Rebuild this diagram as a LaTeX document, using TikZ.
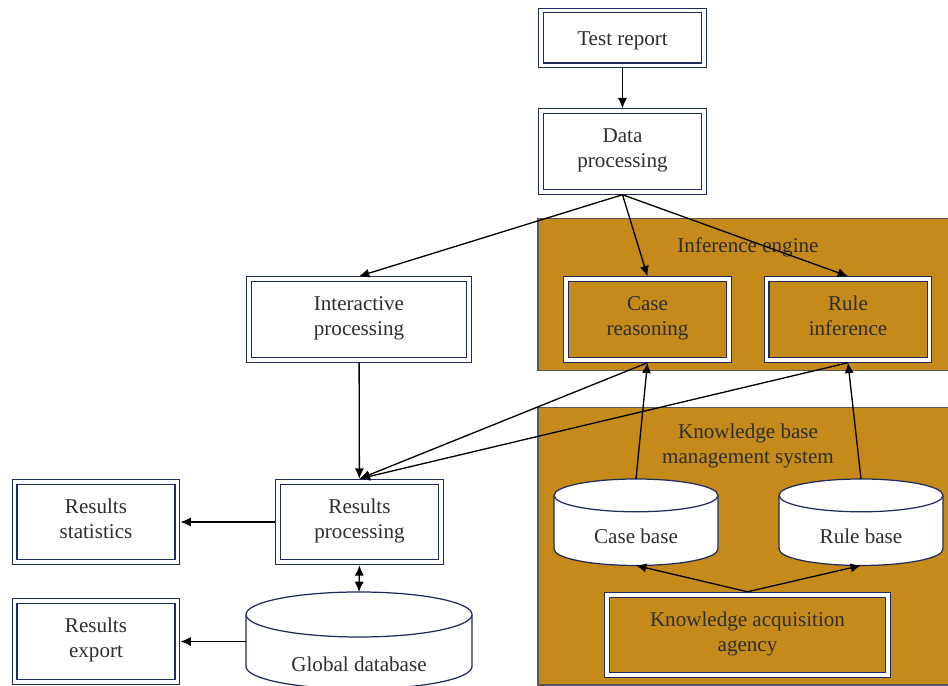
\documentclass[tikz,border=0pt]{standalone}
\usepackage{fontspec}
\setmainfont{Liberation Serif}
\usetikzlibrary{arrows.meta}
\definecolor{panelgold}{HTML}{C58A1A}
\definecolor{boxnavy}{HTML}{1E2B5C}
\definecolor{txtgray}{HTML}{2E2E2E}
% centre x : top y : bottom y : half width : cap half height
\def\dbdrum(#1:#2:#3:#4:#5){\draw[dbline] ({#1-#4},{#2-#5}) -- ({#1-#4},{#3+#5}) arc[start angle=180, end angle=360, x radius=#4, y radius=#5] -- ({#1+#4},{#2-#5}) arc[start angle=0, end angle=180, x radius=#4, y radius=#5] -- cycle;
	\draw[dbline] ({#1-#4},{#2-#5}) arc[start angle=180, end angle=360, x radius=#4, y radius=#5];}

\begin{document}
\begin{tikzpicture}[x=0.02cm, y=0.02cm,
		every node/.style={font=\fontsize{12}{14.2}\selectfont, text=txtgray},
		dblbox/.style={draw=boxnavy, line width=0.6pt, double=white, double distance=2.2pt, fill=white, align=center, outer sep=1.7pt, inner sep=2pt, execute at begin node=\rule{0pt}{12.7pt}, execute at end node=\strut},
		goldbox/.style={dblbox, fill=panelgold},
		panel/.style={fill=panelgold, draw=black!65, line width=0.8pt},
		dbline/.style={draw=boxnavy, line width=0.7pt, fill=white},
		>={Latex[length=5.9pt, width=5.2pt]},
		conn/.style={line width=0.75pt, black}]
	%%%%% START %%%%%
	\useasboundingbox (0, 0) rectangle (948, 686);
	
	% panels
	\draw[panel] (538, 315.5) rectangle (955, 467.5);
	\draw[panel] (538, 1) rectangle (955, 278.5);
	\node (infeng) at (748, 439) {Inference engine};
	\node[align=center] (kbms) at (748, 240.5) {Knowledge base\\management system};
	
	% databases
	\dbdrum(636:207:120.5:82:16.4);
	\dbdrum(861:207:120.5:82:16.4);
	\dbdrum(359:94:-3:113:22.5);
	\node (casebase) at (636, 149.5) {Case base};
	\node (rulebase) at (861, 149.5) {Rule base};
	\node (globaldb) at (359, 22) {Global database};
	\coordinate (cb top) at (636, 207);
	\coordinate (cb bot) at (636, 120.5);
	\coordinate (rb top) at (861, 207);
	\coordinate (rb bot) at (861, 120.5);
	\coordinate (gdb top) at (359, 94);
	\coordinate (gdb left) at (246, 44.5);
	
	% boxes
	\node[dblbox, minimum width=3.26cm, minimum height=1.1cm] (testrep) at (622.5, 648) {Test report};
	\node[dblbox, minimum width=3.26cm, minimum height=1.61cm] (datap) at (622.5, 534.5) {Data\\processing};
	\node[goldbox, minimum width=3.26cm, minimum height=1.61cm] (casereas) at (647.5, 366.5) {Case\\reasoning};
	\node[goldbox, minimum width=3.26cm, minimum height=1.61cm] (ruleinf) at (848, 366.5) {Rule\\inference};
	\node[dblbox, minimum width=4.4cm, minimum height=1.61cm] (interact) at (359, 366.5) {Interactive\\processing};
	\node[dblbox, minimum width=3.26cm, minimum height=1.61cm] (resproc) at (359.5, 164) {Results\\processing};
	\node[dblbox, minimum width=3.26cm, minimum height=1.61cm] (resstat) at (96, 164) {Results\\statistics};
	\node[dblbox, minimum width=3.26cm, minimum height=1.61cm] (resexp) at (96, 44.5) {Results\\export};
	\node[goldbox, minimum width=5.62cm, minimum height=1.61cm] (kaa) at (747.5, 51) {Knowledge acquisition\\agency};
	
	% connectors
	\draw[conn, ->] (testrep) -- (datap);
	\draw[conn, ->] (datap.south) -- (interact.north);
	\draw[conn, ->] (datap.south) -- (casereas.north);
	\draw[conn, ->] (datap.south) -- (ruleinf.north);
	\draw[conn, ->] (interact) -- (resproc);
	\draw[conn, ->] (casereas.south) -- (resproc.north);
	\draw[conn, ->] (ruleinf.south) -- (resproc.north);
	\draw[conn, ->] (cb top) -- (casereas.south);
	\draw[conn, ->] (rb top) -- (ruleinf.south);
	\draw[conn, <->] (resproc.south) -- (gdb top);
	\draw[conn, ->] (resproc) -- (resstat);
	\draw[conn, ->] (gdb left) -- (resexp);
	\draw[conn, ->] (kaa.north) -- (cb bot);
	\draw[conn, ->] (kaa.north) -- (rb bot);
	%%%%% END %%%%%
\end{tikzpicture}
\end{document}
